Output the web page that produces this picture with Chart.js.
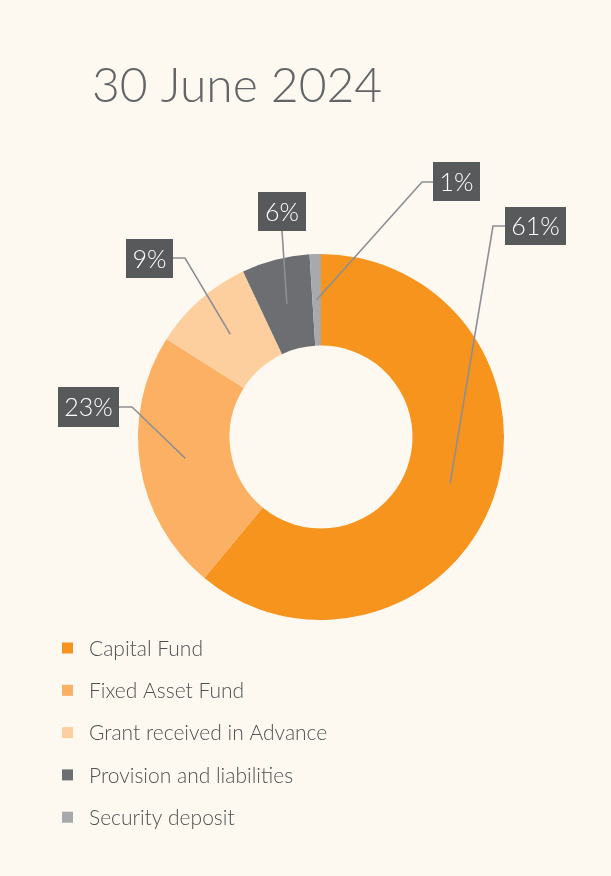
<!DOCTYPE html>
<html>
<head>
<meta charset="utf-8">
<script src="https://cdn.jsdelivr.net/npm/chart.js@4.4.1/dist/chart.umd.min.js"></script>
<style>
  html, body { margin: 0; padding: 0; background: #fdf9f1; }
  canvas { display: block; }
</style>
</head>
<body>
<canvas id="fundsChart" width="611" height="876"></canvas>
<script>
var categories = ['Capital Fund', 'Fixed Asset Fund', 'Grant received in Advance', 'Provision and liabilities', 'Security deposit'];
var shares = [61, 23, 9, 6, 1];
var colours = ['#f7941e', '#fbb063', '#fdcf9e', '#6d6e71', '#a7a9ac'];
var chartTitle = '30 June 2024';

// where each percentage box sits and how its leader line bends
var callouts = [
    { box: [505, 207, 61, 38], from: [505, 226], elbow: [493, 226] },
    { box: [58, 387, 61, 40], from: [119, 407], elbow: [132, 407] },
    { box: [126, 239, 47, 39], from: [173, 258], elbow: [185, 258] },
    { box: [258, 192, 48, 39], from: [282, 231], elbow: null },
    { box: [433, 162, 47, 39], from: [433, 182], elbow: [422, 182] }
];

var FONT = 'Lato, "Open Sans", sans-serif';

var decorations = {
    id: 'decorations',
    beforeDraw: function (chart) {
        var c = chart.ctx;
        c.save();
        c.fillStyle = '#fdf9f1';
        c.fillRect(0, 0, chart.width, chart.height);
        c.fillStyle = '#636466';
        c.font = '300 48px ' + FONT;
        c.textBaseline = 'alphabetic';
        c.fillText(chartTitle, 92, 102);
        c.restore();
    },
    afterDraw: function (chart) {
        var c = chart.ctx;
        var arcs = chart.getDatasetMeta(0).data;
        c.save();
        // leader lines
        c.strokeStyle = '#8d8f92';
        c.lineWidth = 1.6;
        arcs.forEach(function (arc, i) {
            var p = arc.tooltipPosition();
            var co = callouts[i];
            c.beginPath();
            c.moveTo(co.from[0], co.from[1]);
            if (co.elbow) c.lineTo(co.elbow[0], co.elbow[1]);
            c.lineTo(p.x, p.y);
            c.stroke();
        });
        // boxes with percentages
        c.font = '300 25px ' + FONT;
        c.textAlign = 'center';
        c.textBaseline = 'middle';
        callouts.forEach(function (co, i) {
            var b = co.box;
            c.fillStyle = '#58595b';
            c.fillRect(b[0], b[1], b[2], b[3]);
            c.fillStyle = '#ffffff';
            c.fillText(shares[i] + '%', b[0] + b[2] / 2, b[1] + b[3] / 2 + 1);
        });
        // legend
        c.textAlign = 'left';
        c.font = '300 21px ' + FONT;
        categories.forEach(function (name, i) {
            var y = 648 + i * 42.3;
            c.fillStyle = colours[i];
            c.fillRect(62, y - 5.5, 11, 11);
            c.fillStyle = '#505153';
            c.fillText(name, 89, y + 1);
        });
        c.restore();
    }
};

var ctx = document.getElementById('fundsChart').getContext('2d');
var fundsChart = new Chart(ctx, {
    type: 'doughnut',
    data: {
        labels: categories,
        datasets: [{
            data: shares,
            backgroundColor: colours,
            borderWidth: 0,
            hoverOffset: 0
        }]
    },
    options: {
        responsive: false,
        animation: false,
        cutout: '50%',
        layout: {
            padding: { left: 138, right: 107, top: 254, bottom: 256 }
        },
        plugins: {
            legend: { display: false },
            tooltip: { enabled: false },
            title: { display: false }
        }
    },
    plugins: [decorations]
});
</script>
</body>
</html>
